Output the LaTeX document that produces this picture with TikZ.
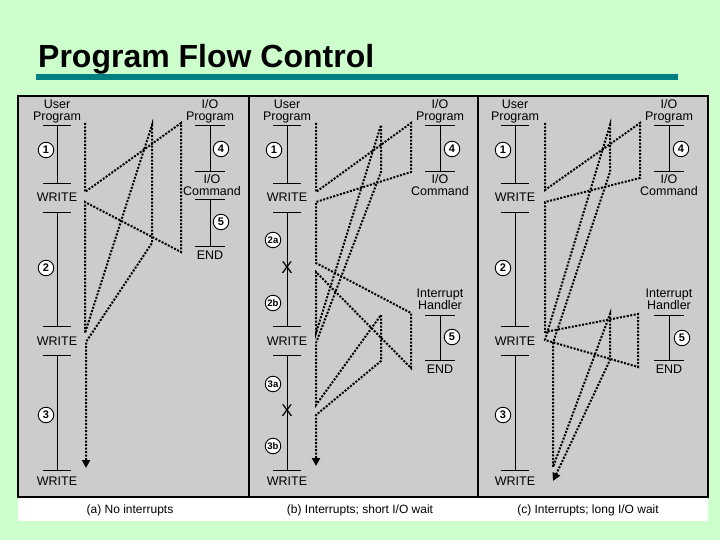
\documentclass[tikz,border=0pt]{standalone}
\usepackage{fontspec}
\setmainfont{Liberation Sans}
\usetikzlibrary{arrows.meta}
\definecolor{bggreen}{RGB}{204,255,204}
\definecolor{panelgray}{RGB}{204,204,204}
\definecolor{barteal}{RGB}{0,128,128}
\begin{document}
\begin{tikzpicture}[x=1pt,y=-1pt,
  lbl/.style={font=\fontsize{12.5}{12}\selectfont, inner sep=0pt},
  lbltwo/.style={font=\fontsize{12.5}{12}\selectfont, inner sep=0pt, align=center},
  captxt/.style={font=\fontsize{12}{12}\selectfont, inner sep=0pt},
  xmark/.style={font=\fontsize{17}{17}\selectfont, inner sep=0pt},
  num/.style={circle, draw, line width=0.9pt, fill=white, inner sep=0pt, minimum size=15.5pt, font=\bfseries\fontsize{11}{11}\selectfont},
  numb/.style={num, font=\bfseries\fontsize{9.5}{9.5}\selectfont},
  solidln/.style={line width=0.9pt},
  flow/.style={line width=2pt, dash pattern=on 2pt off 1.5pt},
  tip/.style={-{Triangle[length=8pt,width=8pt]}}]
\useasboundingbox (0,0) rectangle (720,540);
\fill[bggreen] (0,0) rectangle (720,540);
% title
\fill[barteal] (36,74) rectangle (678,80);
\node[anchor=base west, inner sep=0pt, font=\bfseries\fontsize{32}{32}\selectfont] (title) at (38,68) {Program Flow Control};
% panels
\fill[white] (18,497) rectangle (708,521);
\fill[panelgray] (18,96) rectangle (708,497);
\draw[line width=2.5pt] (18,96) rectangle (708,497);
\draw[line width=2.5pt] (249,96) -- (249,497);
\draw[line width=2.5pt] (478,96) -- (478,497);
% captions
\node[captxt] (capa) at (130,510) {(a) No interrupts};
\node[captxt] (capb) at (360,510) {(b) Interrupts; short I/O wait};
\node[captxt] (capc) at (588,510) {(c) Interrupts; long I/O wait};
% user program columns
\foreach \p/\ux in {a/57,b/287,c/515}{
  \node[lbltwo] (user\p) at (\ux,111.5) {User\\Program};
  \foreach \ty in {125,183,212,326,355,470}
    \draw[solidln] (\ux-14,\ty) -- (\ux+14,\ty);
  \draw[solidln] (\ux,125) -- (\ux,183);
  \draw[solidln] (\ux,212) -- (\ux,326);
  \draw[solidln] (\ux,355) -- (\ux,470);
  \node[lbl] (wra\p) at (\ux,197) {WRITE};
  \node[lbl] (wrb\p) at (\ux,341) {WRITE};
  \node[lbl] (wrc\p) at (\ux,481) {WRITE};
}
% I/O program columns
\foreach \p/\ix in {a/210,b/440,c/669}{
  \node[lbltwo] (io\p) at (\ix,111.5) {I/O\\Program};
  \draw[solidln] (\ix-15,125) -- (\ix+15,125);
  \draw[solidln] (\ix,125) -- (\ix,171);
  \draw[solidln] (\ix-15,171) -- (\ix+15,171);
}
\node[lbltwo] (cmda) at (212,185) {I/O\\Command};
\node[lbltwo] (cmdb) at (440,185) {I/O\\Command};
\node[lbltwo] (cmdc) at (669,185) {I/O\\Command};
% (a) lower part of I/O program
\draw[solidln] (195,199) -- (225,199);
\draw[solidln] (210,199) -- (210,246);
\draw[solidln] (195,246) -- (225,246);
\node[lbl] (enda) at (210,255) {END};
% interrupt handlers (b),(c)
\foreach \p/\ix in {b/440,c/669}{
  \node[lbltwo] (int\p) at (\ix,299.5) {Interrupt\\Handler};
  \draw[solidln] (\ix-15,315) -- (\ix+15,315);
  \draw[solidln] (\ix,315) -- (\ix,360);
  \draw[solidln] (\ix-15,360) -- (\ix+15,360);
  \node[lbl] (endh\p) at (\ix,369) {END};
}
% circled numbers
\node[num] (na1) at (46,150) {1};
\node[num] (na2) at (46,268) {2};
\node[num] (na3) at (46,415) {3};
\node[num] (na4) at (221,149) {4};
\node[num] (na5) at (221,222) {5};
\node[num] (nb1) at (274,150) {1};
\node[numb] (nb2a) at (273,240) {2a};
\node[numb] (nb2b) at (273,303) {2b};
\node[numb] (nb3a) at (273,384) {3a};
\node[numb] (nb3b) at (273,446) {3b};
\node[num] (nb4) at (452,149) {4};
\node[num] (nb5) at (452,337) {5};
\node[num] (nc1) at (503,150) {1};
\node[num] (nc2) at (503,268) {2};
\node[num] (nc3) at (503,415) {3};
\node[num] (nc4) at (681,149) {4};
\node[num] (nc5) at (682,338) {5};
% X marks
\node[xmark] (xb1) at (287,268) {X};
\node[xmark] (xb2) at (287,411) {X};
% flow coordinates (a)
\coordinate (a1) at (85,123);
\coordinate (a2) at (85,192);
\coordinate (a3) at (181,123);
\coordinate (a4) at (181,252);
\coordinate (a5) at (85,202);
\coordinate (a6) at (85,333);
\coordinate (a7) at (152,125);
\coordinate (a8) at (152,243);
\coordinate (a9) at (86,342);
\coordinate (a10) at (86,468);
\draw[flow,tip] (a1) -- (a2) -- (a3) -- (a4) -- (a5) -- (a6) -- (a7) -- (a8) -- (a9) -- (a10);
% flow coordinates (b)
\coordinate (b1) at (316,123);
\coordinate (b2) at (316,192);
\coordinate (b3) at (411,123);
\coordinate (b4) at (411,172);
\coordinate (b5) at (316,202);
\coordinate (b6) at (316,263);
\coordinate (b7) at (411,313);
\coordinate (b8) at (411,368);
\coordinate (b9) at (316,272);
\coordinate (b10) at (316,333);
\coordinate (b11) at (381,125);
\coordinate (b12) at (381,172);
\coordinate (b13) at (316,343);
\coordinate (b14) at (316,405);
\coordinate (b15) at (381,315);
\coordinate (b16) at (381,361);
\coordinate (b17) at (316,415);
\coordinate (b18) at (316,466);
\draw[flow,tip] (b1) -- (b2) -- (b3) -- (b4) -- (b5) -- (b6) -- (b7) -- (b8) -- (b9) -- (b10) -- (b11) -- (b12) -- (b13) -- (b14) -- (b15) -- (b16) -- (b17) -- (b18);
% flow coordinates (c)
\coordinate (c1) at (545,123);
\coordinate (c2) at (545,190);
\coordinate (c3) at (640,123);
\coordinate (c4) at (640,178);
\coordinate (c5) at (545,202);
\coordinate (c6) at (545,332);
\coordinate (c7) at (638,314);
\coordinate (c8) at (638,367);
\coordinate (c9) at (545,340);
\coordinate (c10) at (610,125);
\coordinate (c11) at (610,172);
\coordinate (c12) at (553,343);
\coordinate (c13) at (553,467);
\coordinate (c14) at (610,314);
\coordinate (c15) at (610,360);
\coordinate (c16) at (553,481);
\draw[flow,tip] (c1) -- (c2) -- (c3) -- (c4) -- (c5) -- (c6) -- (c7) -- (c8) -- (c9) -- (c10) -- (c11) -- (c12) -- (c13) -- (c14) -- (c15) -- (c16);
\end{tikzpicture}
\end{document}
